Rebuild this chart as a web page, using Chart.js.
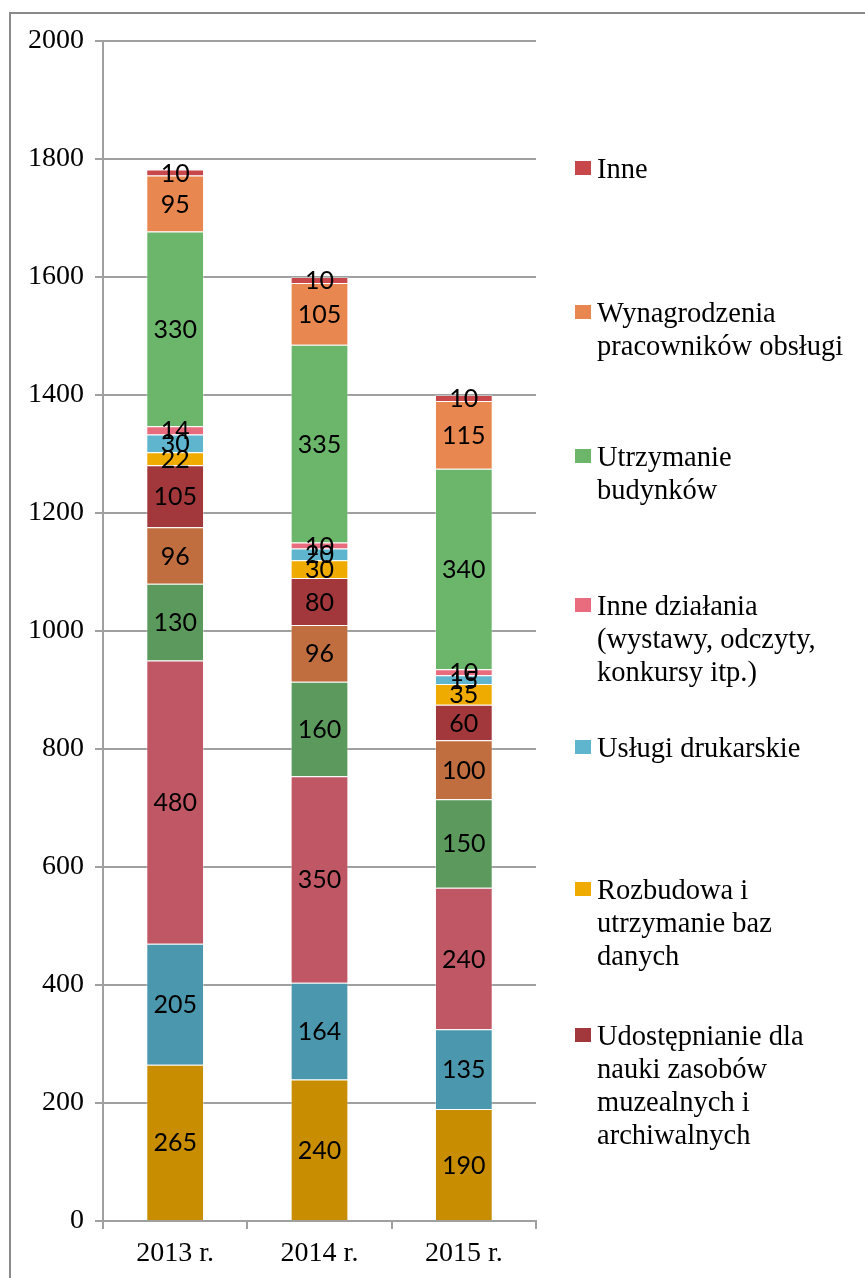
<!DOCTYPE html>
<html>
<head>
<meta charset="utf-8">
<script src="https://cdn.jsdelivr.net/npm/chart.js@4/dist/chart.umd.min.js"></script>
<style>
  html, body { margin:0; padding:0; background:#fff; }
  #wrap { position:relative; width:865px; height:1278px; overflow:hidden; }
  #frame { position:absolute; left:9px; top:12px; width:900px; height:1300px; border-left:2px solid #8a8a8a; border-top:2px solid #8a8a8a; box-sizing:border-box; }
  canvas { position:absolute; left:0; top:0; }
  .lg { position:absolute; left:575px; font-family:"Liberation Serif", "Times New Roman", serif; font-size:28.5px; line-height:33px; color:#000; white-space:nowrap; }
  .lg .sw { position:absolute; left:0; top:9px; width:16px; height:14px; }
  .lg .tx { position:absolute; left:22px; top:0; }
</style>
</head>
<body>
<div id="wrap">
  <div id="frame"></div>
  <canvas id="c" width="865" height="1278"></canvas>
  <div id="legend"></div>
</div>
<script>
const categories = ['2013 r.', '2014 r.', '2015 r.'];
const yTicks = [0, 200, 400, 600, 800, 1000, 1200, 1400, 1600, 1800, 2000];

// series, bottom to top
const seriesNames = [
  'Seria 1',
  'Seria 2',
  'Seria 3',
  'Seria 4',
  'Seria 5',
  'Udostępnianie dla nauki zasobów muzealnych i archiwalnych',
  'Rozbudowa i utrzymanie baz danych',
  'Usługi drukarskie',
  'Inne działania (wystawy, odczyty, konkursy itp.)',
  'Utrzymanie budynków',
  'Wynagrodzenia pracowników obsługi',
  'Inne'
];
const s1 = [265, 240, 190];
const s2 = [205, 164, 135];
const s3 = [480, 350, 240];
const s4 = [130, 160, 150];
const s5 = [96, 96, 100];
const udostepnianie = [105, 80, 60];
const rozbudowa = [22, 30, 35];
const uslugi = [30, 20, 15];
const inneDzialania = [14, 10, 10];
const utrzymanie = [330, 335, 340];
const wynagrodzenia = [95, 105, 115];
const inne = [10, 10, 10];
const seriesValues = [s1, s2, s3, s4, s5, udostepnianie, rozbudowa, uslugi, inneDzialania, utrzymanie, wynagrodzenia, inne];
const seriesColors = ['#C88D00', '#4B97AD', '#C05764', '#5B9A5C', '#C06D40', '#A2383B', '#F0AB00', '#5EB5CD', '#E86B7E', '#6CB66C', '#E8874F', '#C8474B'];

// legend (visible part, top to bottom)
const legendItems = [
  { idx: 11, lines: ['Inne'], top: 152 },
  { idx: 10, lines: ['Wynagrodzenia', 'pracowników obsługi'], top: 296 },
  { idx: 9, lines: ['Utrzymanie', 'budynków'], top: 440 },
  { idx: 8, lines: ['Inne działania', '(wystawy, odczyty,', 'konkursy itp.)'], top: 589 },
  { idx: 7, lines: ['Usługi drukarskie'], top: 731 },
  { idx: 6, lines: ['Rozbudowa i', 'utrzymanie baz', 'danych'], top: 873 },
  { idx: 5, lines: ['Udostępnianie dla', 'nauki zasobów', 'muzealnych i', 'archiwalnych'], top: 1019 }
];

const lg = document.getElementById('legend');
legendItems.forEach(it => {
  const d = document.createElement('div');
  d.className = 'lg';
  d.style.top = it.top + 'px';
  const sw = document.createElement('div');
  sw.className = 'sw';
  sw.style.background = seriesColors[it.idx];
  const tx = document.createElement('div');
  tx.className = 'tx';
  tx.innerHTML = it.lines.join('<br>');
  d.appendChild(sw); d.appendChild(tx);
  lg.appendChild(d);
});

const segLabels = {
  id: 'segLabels',
  afterDatasetsDraw(chart) {
    const ctx = chart.ctx;
    ctx.save();
    ctx.font = '25px Lato';
    ctx.fillStyle = '#000';
    ctx.textAlign = 'center';
    ctx.textBaseline = 'middle';
    chart.data.datasets.forEach((ds, i) => {
      const meta = chart.getDatasetMeta(i);
      meta.data.forEach((bar, j) => {
        const p = bar.getProps(['x', 'y', 'base'], true);
        ctx.fillText(String(ds.data[j]), p.x, (p.y + p.base) / 2 + 1);
      });
    });
    ctx.restore();
  }
};

const gray = '#a0a0a0';
new Chart(document.getElementById('c'), {
  type: 'bar',
  data: {
    labels: categories,
    datasets: seriesValues.map((v, i) => ({
      label: seriesNames[i],
      data: v,
      backgroundColor: seriesColors[i],
      borderColor: 'rgba(255,255,255,0.35)',
      borderWidth: 1,
      barPercentage: 0.4,
      categoryPercentage: 1.0
    }))
  },
  options: {
    responsive: false,
    animation: false,
    events: [],
    layout: { padding: { left: 0, top: 41, right: 329, bottom: 0 } },
    plugins: { legend: { display: false }, tooltip: { enabled: false } },
    scales: {
      x: {
        stacked: true,
        afterFit(s) { s.height = 57; },
        grid: { drawOnChartArea: false, drawTicks: true, tickLength: 8, color: gray, lineWidth: 2, offset: true },
        border: { display: true, color: gray, width: 2 },
        ticks: { color: '#000', padding: 8, font: { family: 'Liberation Serif', size: 28 } }
      },
      y: {
        stacked: true,
        min: 0,
        max: 2000,
        afterFit(s) { s.width = 103; },
        afterBuildTicks(s) { s.ticks = yTicks.map(v => ({ value: v })); },
        grid: { color: gray, lineWidth: 2, tickLength: 8, drawTicks: true },
        border: { display: true, color: gray, width: 2 },
        ticks: { color: '#000', padding: 11, font: { family: 'Liberation Serif', size: 28 }, callback: v => String(v) }
      }
    }
  },
  plugins: [segLabels]
});
</script>
</body>
</html>
